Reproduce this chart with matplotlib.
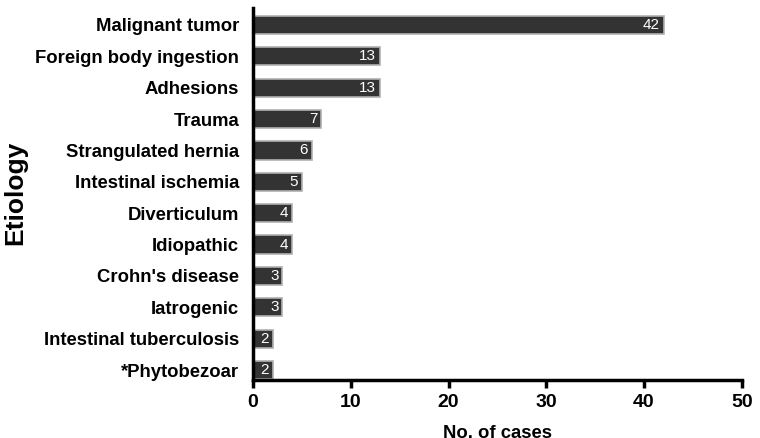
import matplotlib
matplotlib.use("Agg")
import matplotlib.pyplot as plt

categories = ["Malignant tumor", "Foreign body ingestion", "Adhesions", "Trauma",
              "Strangulated hernia", "Intestinal ischemia", "Diverticulum", "Idiopathic",
              "Crohn's disease", "Iatrogenic", "Intestinal tuberculosis", "*Phytobezoar"]
cases = [42, 13, 13, 7, 6, 5, 4, 4, 3, 3, 2, 2]
xticks = [0, 10, 20, 30, 40, 50]

plt.rcParams["font.family"] = "Liberation Sans"
fig = plt.figure(figsize=(7.6, 4.38), dpi=100)
ax = fig.add_axes([0.333, 0.132, 0.643, 0.85])
n = len(categories)
ys = [n - 1 - i for i in range(n)]
ax.barh(ys, cases, height=0.58, color="#333333", edgecolor="#b0b0b0", linewidth=1.2)
for y, v in zip(ys, cases):
    ax.text(v - 0.4, y, str(v), color="white", ha="right", va="center", fontsize=11)
ax.set_ylim(-0.32, n - 1 + 0.54)
ax.set_xlim(0, 50)
ax.set_xticks(xticks)
ax.set_yticks(ys)
ax.set_yticklabels(categories, fontsize=13.3, fontweight="bold")
ax.tick_params(axis="y", length=0, pad=10)
ax.tick_params(axis="x", length=6, width=2.5, labelsize=14, pad=4)
for lab in ax.get_xticklabels():
    lab.set_fontweight("bold")
for s in ["top", "right"]:
    ax.spines[s].set_visible(False)
for s in ["left", "bottom"]:
    ax.spines[s].set_linewidth(2.5)
ax.set_xlabel("No. of cases", fontsize=13.3, fontweight="bold", labelpad=10)
fig.text(0.02, 0.56, "Etiology", rotation=90, fontsize=19, fontweight="bold",
         ha="center", va="center")
fig.savefig("out.png", dpi=100)
